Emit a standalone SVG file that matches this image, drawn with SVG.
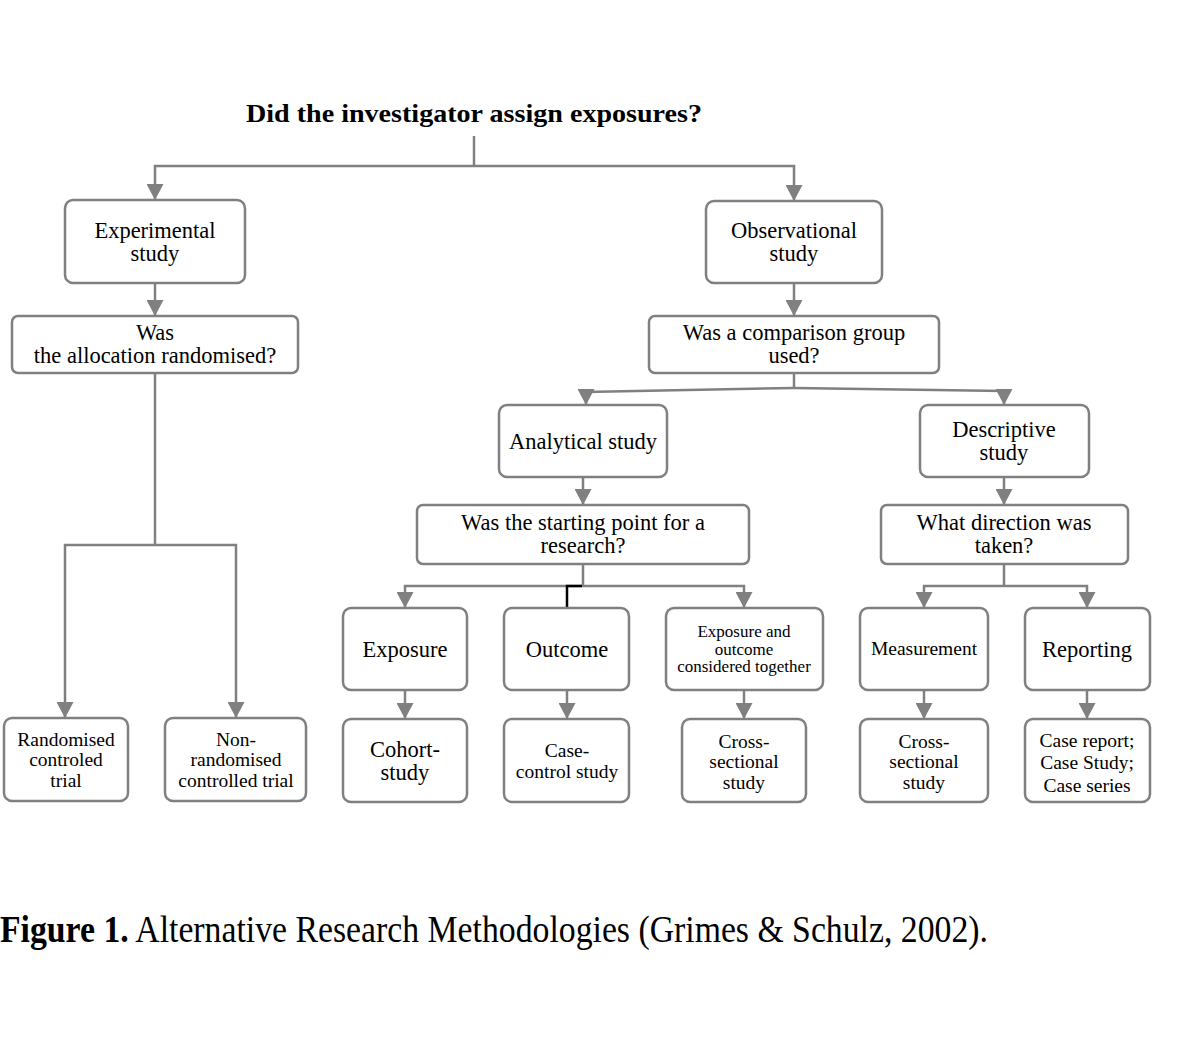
<svg xmlns="http://www.w3.org/2000/svg" width="1198" height="1060" viewBox="0 0 1198 1060">
<style>
  .box{fill:#fff;stroke:#808080;stroke-width:2.5}
  .c{fill:none;stroke:#808080;stroke-width:2.5}
  .k{fill:none;stroke:#000;stroke-width:2.5}
  text{font-family:"Liberation Serif","Times New Roman",serif;fill:#000;text-anchor:middle}
  .m{font-size:22.5px}
  .s{font-size:19.5px}
  .xs{font-size:17px}
</style>
<defs>
  <marker id="ah" viewBox="0 0 16 17" refX="16" refY="8.5" markerWidth="16" markerHeight="17" markerUnits="userSpaceOnUse" orient="auto">
    <path d="M0,0 L16,8.5 L0,17 z" fill="#808080"/>
  </marker>
</defs>
<rect width="1198" height="1060" fill="#fff"/>
<text x="474" y="122" style="font-size:26px;font-weight:bold" textLength="456" lengthAdjust="spacingAndGlyphs">Did the investigator assign exposures?</text>

<g id="connectors">
  <path class="c" d="M474,136 V166"/>
  <path class="c" d="M474,166 H155 V200" marker-end="url(#ah)"/>
  <path class="c" d="M474,166 H794 V201" marker-end="url(#ah)"/>
  <path class="c" d="M155,283 V316" marker-end="url(#ah)"/>
  <path class="c" d="M155,373 V545"/>
  <path class="c" d="M155,545 H65 V718" marker-end="url(#ah)"/>
  <path class="c" d="M155,545 H236 V718" marker-end="url(#ah)"/>
  <path class="c" d="M794,283 V316" marker-end="url(#ah)"/>
  <path class="c" d="M794,373 V388"/>
  <path class="c" d="M794,388 L586,392 V405" marker-end="url(#ah)"/>
  <path class="c" d="M794,388 L1004,391 V405" marker-end="url(#ah)"/>
  <path class="c" d="M583,477 V505" marker-end="url(#ah)"/>
  <path class="c" d="M583,564 V586"/>
  <path class="c" d="M583,586 H405 V608" marker-end="url(#ah)"/>
  <path class="c" d="M583,586 H744 V608" marker-end="url(#ah)"/>
  <path class="k" d="M582,586 H567 V608"/>
  <path class="c" d="M405,690 V719" marker-end="url(#ah)"/>
  <path class="c" d="M567,690 V719" marker-end="url(#ah)"/>
  <path class="c" d="M744,690 V719" marker-end="url(#ah)"/>
  <path class="c" d="M1004,477 V505" marker-end="url(#ah)"/>
  <path class="c" d="M1004,564 V586"/>
  <path class="c" d="M1004,586 H924 V608" marker-end="url(#ah)"/>
  <path class="c" d="M1004,586 H1087 V608" marker-end="url(#ah)"/>
  <path class="c" d="M924,690 V719" marker-end="url(#ah)"/>
  <path class="c" d="M1087,690 V719" marker-end="url(#ah)"/>
</g>

<g id="experimental">
  <rect class="box" x="65" y="200" width="180" height="83" rx="8"/>
  <text class="m" x="155" y="238">Experimental</text>
  <text class="m" x="155" y="261">study</text>
</g>
<g id="allocation">
  <rect class="box" x="12" y="316" width="286" height="57" rx="6"/>
  <text class="m" x="155" y="340">Was</text>
  <text class="m" x="155" y="363">the allocation randomised?</text>
</g>
<g id="rct">
  <rect class="box" x="4" y="718" width="124" height="83" rx="8"/>
  <text class="s" x="66" y="746">Randomised</text>
  <text class="s" x="66" y="766">controled</text>
  <text class="s" x="66" y="787">trial</text>
</g>
<g id="nrct">
  <rect class="box" x="165" y="718" width="141" height="83" rx="8"/>
  <text class="s" x="236" y="746">Non-</text>
  <text class="s" x="236" y="766">randomised</text>
  <text class="s" x="236" y="787">controlled trial</text>
</g>
<g id="observational">
  <rect class="box" x="706" y="201" width="176" height="82" rx="8"/>
  <text class="m" x="794" y="238">Observational</text>
  <text class="m" x="794" y="261">study</text>
</g>
<g id="comparison">
  <rect class="box" x="649" y="316" width="290" height="57" rx="6"/>
  <text class="m" x="794" y="340">Was a comparison group</text>
  <text class="m" x="794" y="363">used?</text>
</g>
<g id="analytical">
  <rect class="box" x="499" y="405" width="168" height="72" rx="8"/>
  <text class="m" x="583" y="449">Analytical study</text>
</g>
<g id="starting">
  <rect class="box" x="417" y="505" width="332" height="59" rx="6"/>
  <text class="m" x="583" y="530">Was the starting point for a</text>
  <text class="m" x="583" y="553">research?</text>
</g>
<g id="exposure">
  <rect class="box" x="343" y="608" width="124" height="82" rx="8"/>
  <text class="m" x="405" y="657">Exposure</text>
</g>
<g id="outcome">
  <rect class="box" x="504" y="608" width="125" height="82" rx="8"/>
  <text class="m" x="567" y="657">Outcome</text>
</g>
<g id="together">
  <rect class="box" x="666" y="608" width="157" height="82" rx="8"/>
  <text class="xs" x="744" y="637">Exposure and</text>
  <text class="xs" x="744" y="655">outcome</text>
  <text class="xs" x="744" y="672">considered together</text>
</g>
<g id="cohort">
  <rect class="box" x="343" y="719" width="124" height="83" rx="8"/>
  <text class="m" x="405" y="757">Cohort-</text>
  <text class="m" x="405" y="780">study</text>
</g>
<g id="casecontrol">
  <rect class="box" x="504" y="719" width="125" height="83" rx="8"/>
  <text class="s" x="567" y="757">Case-</text>
  <text class="s" x="567" y="778">control study</text>
</g>
<g id="crosssectional1">
  <rect class="box" x="682" y="719" width="124" height="83" rx="8"/>
  <text class="s" x="744" y="748">Cross-</text>
  <text class="s" x="744" y="768">sectional</text>
  <text class="s" x="744" y="789">study</text>
</g>
<g id="descriptive">
  <rect class="box" x="920" y="405" width="169" height="72" rx="8"/>
  <text class="m" x="1004" y="437">Descriptive</text>
  <text class="m" x="1004" y="460">study</text>
</g>
<g id="direction">
  <rect class="box" x="881" y="505" width="247" height="59" rx="6"/>
  <text class="m" x="1004" y="530">What direction was</text>
  <text class="m" x="1004" y="553">taken?</text>
</g>
<g id="measurement">
  <rect class="box" x="860" y="608" width="128" height="82" rx="8"/>
  <text class="s" x="924" y="655">Measurement</text>
</g>
<g id="reporting">
  <rect class="box" x="1025" y="608" width="125" height="82" rx="8"/>
  <text class="m" x="1087" y="657">Reporting</text>
</g>
<g id="crosssectional2">
  <rect class="box" x="860" y="719" width="128" height="83" rx="8"/>
  <text class="s" x="924" y="748">Cross-</text>
  <text class="s" x="924" y="768">sectional</text>
  <text class="s" x="924" y="789">study</text>
</g>
<g id="casereport">
  <rect class="box" x="1025" y="719" width="125" height="83" rx="8"/>
  <text class="s" x="1087" y="747">Case report;</text>
  <text class="s" x="1087" y="769">Case Study;</text>
  <text class="s" x="1087" y="792">Case series</text>
</g>

<text x="0" y="942" style="font-size:37px;text-anchor:start" textLength="988" lengthAdjust="spacingAndGlyphs"><tspan font-weight="bold">Figure 1.</tspan> Alternative Research Methodologies (Grimes &amp; Schulz, 2002).</text>
</svg>
